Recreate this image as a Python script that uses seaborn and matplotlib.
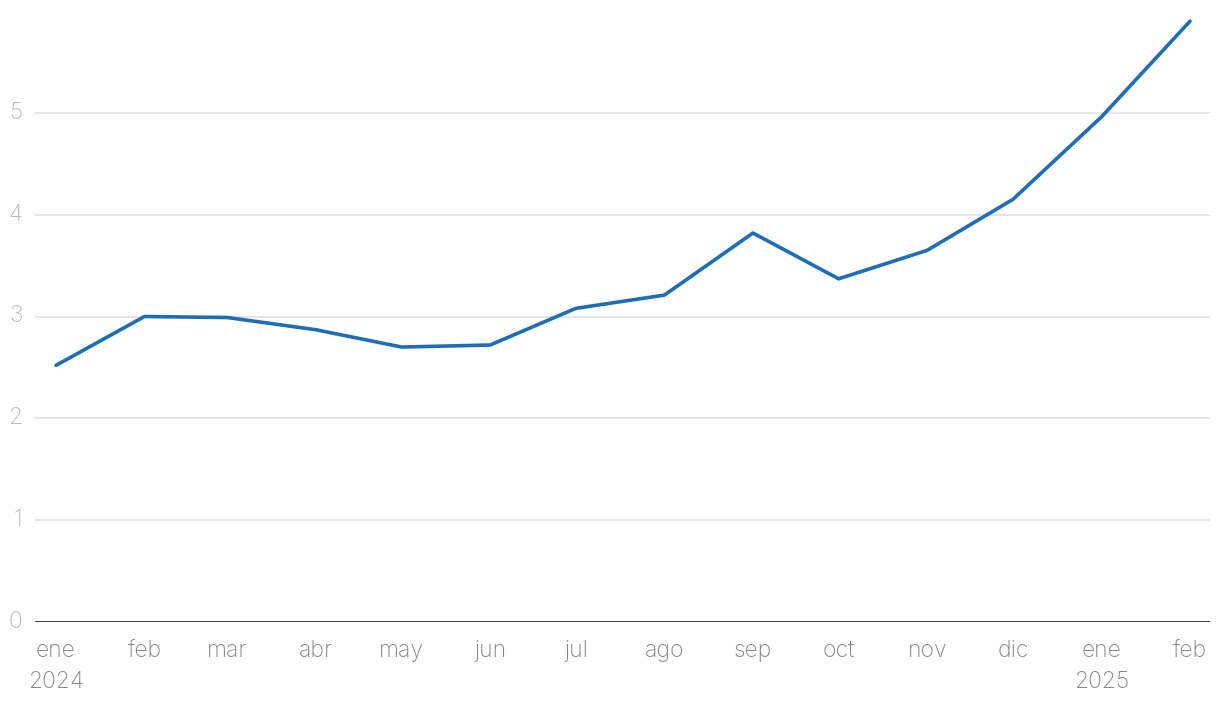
import matplotlib
matplotlib.use("Agg")
import matplotlib.pyplot as plt
import seaborn as sns
import pandas as pd

months = pd.date_range("2024-01-01", "2025-02-01", freq="MS")
values = [2.52, 3.00, 2.99, 2.87, 2.70, 2.72, 3.08, 3.21, 3.82, 3.37, 3.65, 4.15, 4.96, 5.90]
tick_labels = ["ene\n2024", "feb", "mar", "abr", "may", "jun", "jul", "ago",
               "sep", "oct", "nov", "dic", "ene\n2025", "feb"]
y_ticks = [0, 1, 2, 3, 4, 5]

df = pd.DataFrame({"fecha": months, "valor": values})

sns.set_theme(style="white")
plt.rcParams["font.family"] = ["Inter", "DejaVu Sans"]

fig = plt.figure(figsize=(12.2, 7.04), dpi=100)
ax = fig.add_axes([35 / 1220, (704 - 622) / 704, (1210 - 35) / 1220, (622 - 11) / 704])

sns.lineplot(data=df, x="fecha", y="valor", ax=ax, color="#1f6db5", linewidth=2.6)

ax.set_xlim(pd.Timestamp("2023-12-24 16:00"), pd.Timestamp("2025-02-08"))
ax.set_ylim(0, 6)
ax.set_xticks(months)
ax.set_xticklabels(tick_labels, fontsize=16.5, color="#858585", fontweight="light",
                   linespacing=1.55)
ax.set_yticks(y_ticks)
ax.set_yticklabels([str(v) for v in y_ticks], fontsize=16.5, color="#b8b8b8", fontweight="light")
ax.tick_params(axis="x", length=0, pad=13)
ax.tick_params(axis="y", length=0, pad=9)
for lbl in ax.get_yticklabels():
    lbl.set_verticalalignment("center")

for y in y_ticks[1:]:
    ax.axhline(y, color="#e3e3e3", linewidth=1.3, zorder=0)
ax.axhline(0, color="#2b2b2b", linewidth=2.0, zorder=3)

for s in ax.spines.values():
    s.set_visible(False)
ax.set_xlabel("")
ax.set_ylabel("")

fig.savefig("out.png", dpi=100)
